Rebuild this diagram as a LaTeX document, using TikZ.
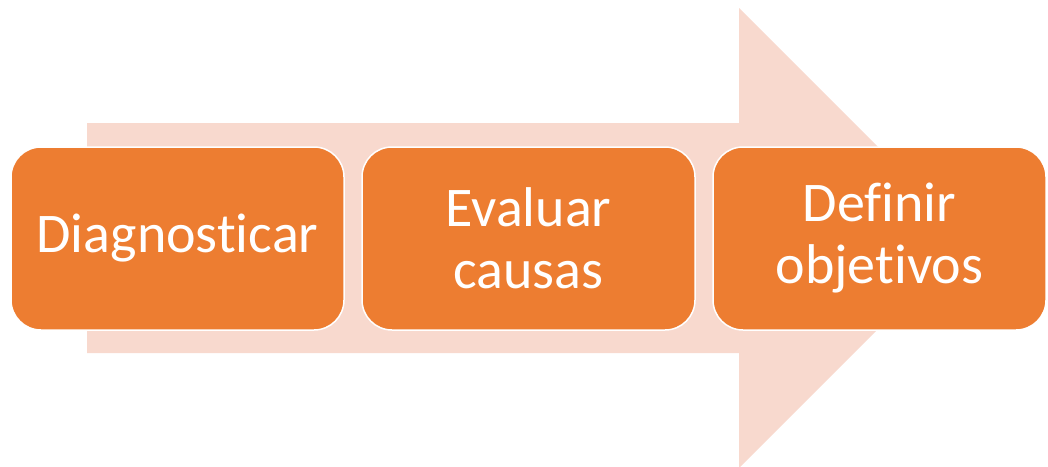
\documentclass[tikz,border=0pt]{standalone}
\usepackage{fontspec}
\newfontfamily\procfont[Ligatures=NoCommon]{Carlito}
\begin{document}
\begin{tikzpicture}[x=1pt,y=-1pt,
    procbox/.style={shape=rectangle,draw=white,line width=1.5pt,fill=proc_bgbox,rounded corners=30pt,
        minimum width=333pt,minimum height=183pt,align=center,text=white,
        font=\procfont\fontsize{56}{62}\selectfont}]
    \definecolor{proc_bgbox}{RGB}{237,125,49}
    \definecolor{proc_bgarrow}{RGB}{248,217,206}
    \useasboundingbox (0,0) rectangle (1048,466);
    % background arrow
    \fill[proc_bgarrow] (87,123) -- (739,123) -- (739,8) -- (969,238) -- (739,468) -- (739,353) -- (87,353) -- cycle;
    \node[procbox] (diag) at (177.5,238.5) {Diagnosticar};
    \node[procbox] (eval) at (528.5,238.5) {Evaluar\\causas};
    \node[procbox] (obj)  at (879.5,238.5) {Definir\\objetivos};
\end{tikzpicture}
\end{document}
